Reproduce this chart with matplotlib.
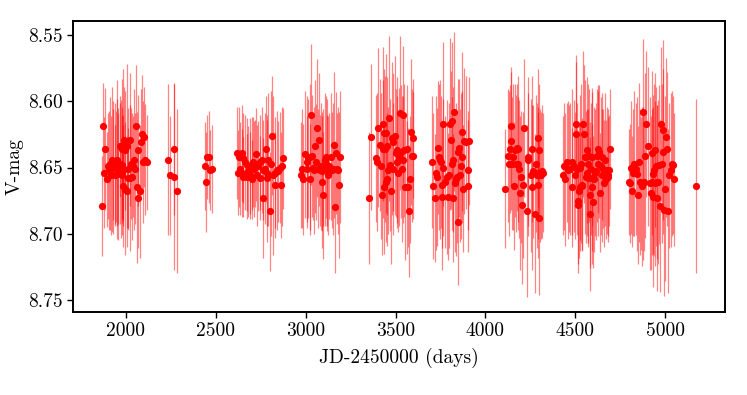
import matplotlib
matplotlib.use("Agg")
import matplotlib.pyplot as plt

plt.rcParams['font.family'] = 'serif'
plt.rcParams['font.serif'] = ['cmr10']
plt.rcParams['mathtext.fontset'] = 'cm'
plt.rcParams['axes.formatter.use_mathtext'] = True

# ---- data (JD-2450000, V mag, error) per observing season ----
d1 = [1869,1874,1878,1884,1893,1902,1912,1917,1921,1930,1939,1939,1949,1958,1958,1967,1967,1976,1976,1986,
      1986,1986,1991,1995,1995,2004,2004,2014,2014,2023,2023,2028,2036,2041,2047,2051,2054,2060,2065,2069,
      2078,2084,2091,2097,2102,2106,2116,1906,1926,1944,1953,1972,1981]
m1 = [8.679,8.619,8.654,8.636,8.659,8.649,8.647,8.656,8.644,8.648,8.647,8.656,8.644,8.651,8.655,8.647,8.634,8.656,8.636,8.652,
      8.664,8.633,8.629,8.637,8.666,8.634,8.668,8.651,8.658,8.629,8.658,8.647,8.657,8.649,8.644,8.651,8.619,8.665,8.673,8.637,
      8.668,8.631,8.625,8.646,8.627,8.644,8.646,8.652,8.650,8.649,8.646,8.651,8.648]
e1 = [0.038,0.033,0.042,0.046,0.036,0.040,0.050,0.045,0.055,0.042,0.046,0.038,0.060,0.042,0.050,0.046,0.038,0.045,0.053,0.042,
      0.046,0.057,0.040,0.045,0.050,0.062,0.042,0.046,0.038,0.050,0.055,0.042,0.048,0.038,0.053,0.042,0.046,0.057,0.038,0.042,
      0.050,0.040,0.045,0.046,0.038,0.042,0.036,0.045,0.050,0.042,0.048,0.052,0.044]

d2 = [2232,2243,2266,2269,2284]
m2 = [8.644,8.656,8.657,8.636,8.668]
e2 = [0.057,0.045,0.070,0.050,0.062]

d3 = [2440,2444,2453,2464,2468,2481]
m3 = [8.649,8.661,8.642,8.642,8.652,8.651]
e3 = [0.033,0.038,0.032,0.035,0.030,0.033]

d4 = [2620,2625,2631,2635,2644,2644,2653,2653,2662,2672,2672,2681,2690,2690,2700,2700,2709,2713,2718,2724,
      2727,2737,2746,2746,2755,2761,2764,2774,2779,2783,2787,2792,2801,2805,2813,2820,2828,2831,2839,2848,
      2857,2863,2866,2872]
m4 = [8.639,8.654,8.642,8.651,8.639,8.654,8.643,8.657,8.646,8.648,8.657,8.653,8.649,8.656,8.647,8.659,8.646,8.651,8.647,8.640,
      8.656,8.649,8.646,8.658,8.644,8.673,8.652,8.651,8.636,8.658,8.654,8.644,8.683,8.647,8.626,8.656,8.654,8.663,8.652,8.653,
      8.650,8.663,8.649,8.643]
e4 = [0.035,0.032,0.038,0.035,0.036,0.033,0.034,0.030,0.036,0.035,0.032,0.034,0.036,0.033,0.035,0.030,0.034,0.036,0.033,0.035,
      0.038,0.034,0.036,0.032,0.040,0.045,0.038,0.042,0.040,0.048,0.040,0.050,0.045,0.055,0.045,0.060,0.042,0.040,0.045,0.038,
      0.042,0.040,0.045,0.038]

d5 = [2972,2978,2987,2996,3005,3009,3015,3024,3024,3028,3033,3042,3046,3052,3057,3065,3070,3076,3080,3083,
      3089,3093,3098,3098,3106,3113,3117,3120,3126,3131,3139,3144,3154,3157,3163,3169,3172,3182,3187,3191]
m5 = [8.656,8.651,8.659,8.640,8.651,8.646,8.643,8.642,8.659,8.610,8.641,8.650,8.652,8.634,8.646,8.620,8.651,8.629,8.652,8.649,
      8.653,8.661,8.671,8.650,8.644,8.642,8.652,8.648,8.656,8.649,8.642,8.652,8.651,8.633,8.680,8.639,8.651,8.652,8.663,8.642]
e5 = [0.040,0.045,0.042,0.048,0.040,0.050,0.045,0.055,0.042,0.053,0.046,0.040,0.048,0.050,0.044,0.052,0.045,0.050,0.042,0.048,
      0.045,0.050,0.048,0.044,0.050,0.046,0.042,0.050,0.045,0.040,0.048,0.044,0.050,0.055,0.050,0.046,0.042,0.048,0.055,0.050]

d6 = [3354,3363,3391,3395,3404,3413,3417,3423,3428,3432,3436,3436,3441,3447,3447,3450,3454,3460,3465,3469,
      3473,3478,3484,3488,3497,3502,3506,3506,3515,3521,3525,3528,3534,3539,3543,3547,3552,3562,3565,3571,
      3576,3580,3584,3590,3595,3599]
m6 = [8.673,8.627,8.643,8.646,8.620,8.633,8.649,8.671,8.617,8.636,8.624,8.665,8.636,8.624,8.661,8.634,8.659,8.652,8.613,8.648,
      8.668,8.628,8.651,8.631,8.626,8.639,8.637,8.646,8.654,8.642,8.609,8.638,8.651,8.644,8.610,8.637,8.665,8.636,8.665,8.665,
      8.683,8.659,8.623,8.641,8.628,8.641]
e6 = [0.050,0.055,0.048,0.052,0.060,0.050,0.055,0.045,0.058,0.052,0.048,0.050,0.055,0.060,0.045,0.052,0.050,0.048,0.062,0.050,
      0.055,0.058,0.050,0.052,0.060,0.048,0.055,0.050,0.045,0.052,0.058,0.050,0.055,0.048,0.052,0.050,0.055,0.048,0.050,0.045,
      0.050,0.048,0.055,0.050,0.045,0.048]

d7 = [3704,3710,3719,3725,3729,3734,3741,3747,3753,3756,3760,3766,3766,3775,3784,3793,3797,3803,3808,3812,
      3816,3821,3821,3827,3830,3834,3840,3845,3849,3853,3858,3864,3868,3868,3877,3882,3890,3901,3905,3908]
m7 = [8.646,8.664,8.673,8.654,8.657,8.635,8.642,8.644,8.646,8.663,8.672,8.650,8.617,8.661,8.657,8.672,8.656,8.617,8.629,8.615,
      8.647,8.644,8.673,8.608,8.662,8.659,8.657,8.638,8.691,8.635,8.656,8.649,8.623,8.642,8.666,8.630,8.631,8.652,8.664,8.630]
e7 = [0.050,0.055,0.048,0.058,0.052,0.050,0.055,0.060,0.050,0.048,0.055,0.052,0.062,0.050,0.058,0.048,0.055,0.065,0.052,0.060,
      0.050,0.055,0.048,0.060,0.052,0.058,0.050,0.055,0.048,0.052,0.050,0.055,0.060,0.050,0.048,0.055,0.050,0.045,0.050,0.048]

d8 = [4109,4127,4131,4136,4142,4142,4146,4155,4160,4164,4168,4173,4179,4183,4186,4192,4198,4201,4211,4216,
      4229,4235,4238,4253,4257,4257,4266,4275,4279,4285,4290,4294,4294,4298,4298,4303,4309,4312,4322]
m8 = [8.666,8.641,8.647,8.636,8.619,8.630,8.647,8.642,8.664,8.637,8.647,8.635,8.647,8.636,8.651,8.669,8.657,8.678,8.663,8.620,
      8.683,8.642,8.644,8.656,8.636,8.665,8.653,8.685,8.647,8.656,8.654,8.628,8.663,8.637,8.688,8.656,8.656,8.653,8.654]
e8 = [0.045,0.050,0.055,0.048,0.045,0.052,0.050,0.055,0.048,0.050,0.052,0.048,0.050,0.055,0.052,0.058,0.050,0.060,0.055,0.052,
      0.065,0.060,0.050,0.058,0.055,0.062,0.050,0.060,0.052,0.055,0.050,0.052,0.055,0.050,0.058,0.050,0.048,0.050,0.045]

d9 = [4433,4439,4442,4451,4457,4464,4470,4479,4483,4494,4498,4502,4502,4507,4513,4516,4520,4526,4526,4531,
      4535,4539,4544,4550,4553,4557,4563,4563,4568,4572,4576,4581,4581,4587,4591,4591,4594,4600,4605,4609,
      4613,4618,4624,4628,4631,4637,4642,4646,4650,4655,4661,4665,4668,4674,4680,4683,4687,4693]
m9 = [8.656,8.649,8.659,8.646,8.652,8.651,8.651,8.665,8.646,8.649,8.656,8.617,8.625,8.651,8.675,8.678,8.668,8.650,8.665,8.647,
      8.663,8.664,8.617,8.625,8.642,8.657,8.637,8.654,8.658,8.647,8.641,8.671,8.685,8.651,8.658,8.665,8.642,8.676,8.659,8.654,
      8.653,8.641,8.636,8.647,8.638,8.669,8.649,8.642,8.656,8.651,8.662,8.644,8.659,8.652,8.657,8.656,8.652,8.636]
e9 = [0.045,0.048,0.050,0.045,0.052,0.048,0.050,0.045,0.055,0.050,0.048,0.052,0.055,0.050,0.048,0.052,0.050,0.055,0.048,0.060,
      0.050,0.048,0.055,0.052,0.058,0.050,0.055,0.048,0.052,0.060,0.050,0.055,0.058,0.050,0.065,0.048,0.052,0.050,0.055,0.048,
      0.052,0.050,0.048,0.055,0.050,0.045,0.052,0.048,0.050,0.045,0.048,0.050,0.045,0.048,0.045,0.050,0.042,0.045]

d10 = [4800,4804,4808,4817,4822,4826,4837,4845,4850,4856,4859,4863,4869,4874,4878,4882,4887,4893,4906,4915,
       4919,4924,4924,4930,4934,4937,4943,4943,4948,4952,4956,4961,4967,4971,4974,4980,4986,4989,4993,4999,
       5004,5011,5017,5023,5030,5036,5045,5049]
m10 = [8.661,8.662,8.650,8.668,8.654,8.647,8.651,8.655,8.671,8.646,8.661,8.662,8.664,8.608,8.662,8.661,8.641,8.617,8.634,8.662,
       8.669,8.639,8.661,8.672,8.655,8.652,8.637,8.662,8.649,8.673,8.661,8.661,8.648,8.679,8.617,8.647,8.638,8.622,8.682,8.666,
       8.627,8.636,8.683,8.656,8.652,8.647,8.648,8.659]
e10 = [0.040,0.045,0.050,0.042,0.048,0.055,0.050,0.058,0.052,0.060,0.055,0.050,0.060,0.055,0.058,0.052,0.062,0.055,0.060,0.065,
       0.058,0.062,0.055,0.068,0.060,0.065,0.058,0.062,0.060,0.070,0.058,0.062,0.060,0.065,0.058,0.060,0.062,0.068,0.065,0.070,
       0.060,0.058,0.062,0.055,0.058,0.055,0.052,0.050]

d11 = [5169]
m11 = [8.664]
e11 = [0.066]

jd = d1 + d2 + d3 + d4 + d5 + d6 + d7 + d8 + d9 + d10 + d11
vmag = m1 + m2 + m3 + m4 + m5 + m6 + m7 + m8 + m9 + m10 + m11
verr = e1 + e2 + e3 + e4 + e5 + e6 + e7 + e8 + e9 + e10 + e11

x_ticks = [2000, 2500, 3000, 3500, 4000, 4500, 5000]
y_ticks = [8.55, 8.60, 8.65, 8.70, 8.75]

fig = plt.figure(figsize=(7.47, 3.95), dpi=100)
ax = fig.add_axes([0.0977, 0.211, 0.8728, 0.7366])

ax.errorbar(jd, vmag, yerr=verr, fmt='none', ecolor=(1, 0, 0, 0.48), elinewidth=0.9, capsize=0)
ax.plot(jd, vmag, 'o', color='red', markersize=5.2, markeredgewidth=0)

ax.set_xlim(1706, 5332)
ax.set_ylim(8.7588, 8.5392)
ax.set_xticks(x_ticks)
ax.set_yticks(y_ticks)
ax.set_yticklabels([f"{v:.2f}" for v in y_ticks])
ax.set_xticklabels([str(v) for v in x_ticks])
ax.tick_params(direction='out', length=4, width=1.0, labelsize=14, top=False, right=False)
for s in ax.spines.values():
    s.set_linewidth(1.4)
ax.set_xlabel("JD-2450000 (days)", fontsize=14, labelpad=6)
ax.set_ylabel("V-mag", fontsize=14, labelpad=3)

fig.savefig("out.png", dpi=100)
